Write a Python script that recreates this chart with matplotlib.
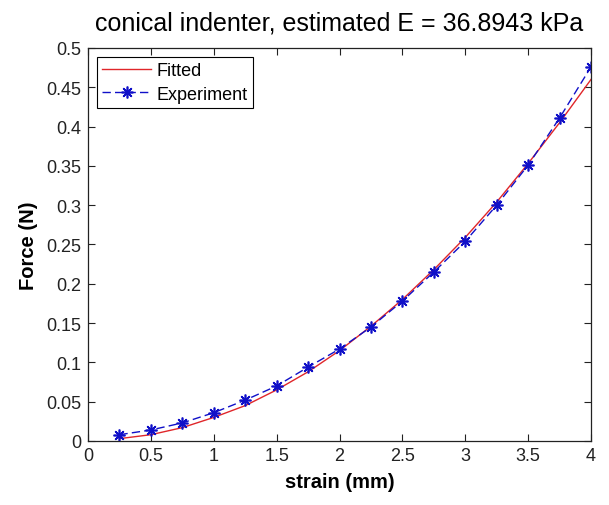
import numpy as np
import matplotlib
matplotlib.use('Agg')
import matplotlib.pyplot as plt

plt.rcParams['font.family'] = ['Liberation Sans', 'DejaVu Sans']

strain = [0.25, 0.5, 0.75, 1.0, 1.25, 1.5, 1.75, 2.0, 2.25, 2.5, 2.75, 3.0, 3.25, 3.5, 3.75, 4.0]
force_exp = [0.008, 0.014, 0.023, 0.036, 0.052, 0.070, 0.094, 0.117, 0.145, 0.178,
             0.215, 0.254, 0.300, 0.351, 0.411, 0.476]
force_fit = [0.003, 0.008, 0.017, 0.030, 0.045, 0.065, 0.088, 0.115, 0.146, 0.180,
             0.218, 0.259, 0.304, 0.353, 0.405, 0.460]

fig = plt.figure(figsize=(6.09, 5.06), dpi=100)
ax = fig.add_axes([0.1445, 0.1265, 0.826, 0.7767])

ax.plot(strain, force_fit, color='#e0262a', lw=1.0, label='Fitted')
ax.plot(strain, force_exp, color='#1010c8', lw=1.0, linestyle=(0, (6, 3)),
        marker=(8, 2, 0), markersize=8.5, markeredgewidth=1.2, label='Experiment')

ax.set_xlim(0, 4)
ax.set_ylim(0, 0.5)
ax.set_xticks(np.arange(0, 4.01, 0.5))
ax.set_xticklabels(['0', '0.5', '1', '1.5', '2', '2.5', '3', '3.5', '4'])
ax.set_yticks(np.arange(0, 0.501, 0.05))
ax.set_yticklabels(['0', '0.05', '0.1', '0.15', '0.2', '0.25', '0.3', '0.35', '0.4', '0.45', '0.5'])
ax.tick_params(direction='in', length=5, labelsize=13, top=True, right=True, width=0.8,
               colors='#222222')
ax.tick_params(axis='y', pad=5)
ax.tick_params(axis='x', pad=4)
for s in ax.spines.values():
    s.set_linewidth(0.9)
    s.set_color('#222222')

ax.set_title('conical indenter, estimated E = 36.8943 kPa', fontsize=18, pad=13)
ax.set_xlabel('strain (mm)', fontsize=14.5, fontweight='bold', labelpad=6)
ax.set_ylabel('Force (N)', fontsize=14.5, fontweight='bold', labelpad=6)

leg = ax.legend(loc='upper left', fontsize=13, fancybox=False, framealpha=1,
                edgecolor='black', handlelength=2.7, borderaxespad=0.5,
                borderpad=0.3, labelspacing=0.35, handletextpad=0.3)
leg.get_frame().set_linewidth(0.8)

fig.savefig('out.png', dpi=100)
